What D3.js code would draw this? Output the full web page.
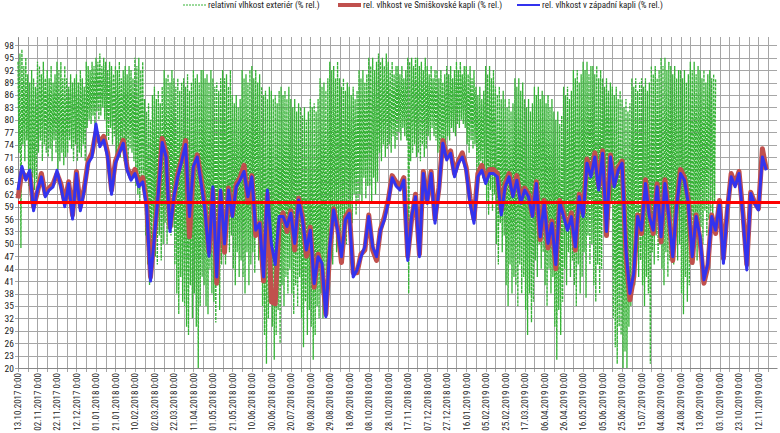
<!DOCTYPE html>
<html>
<head>
<meta charset="utf-8">
<script src="https://cdn.jsdelivr.net/npm/d3@7"></script>
<style>
  body { margin: 0; background: #fff; }
  text { font-family: "Liberation Sans Narrow", "Roboto Condensed", "Liberation Sans", Arial, sans-serif; fill: #222; }
</style>
</head>
<body>
<div id="chart"></div>
<script>
// first day of all series, step of the chapel series (days)
var startDate = '2017-10-13';
var chapelStep = 4;

// relativní vlhkost exteriér - one value a day, daily max / min alternating
var exterior = [
    94,72,96,49,97,74,93,70,95,75, 91,64,89,60,92,66,90,63,88,65,
    94,72,93,75,91,70,94,74,90,72, 92,71,90,73,93,70,89,75,91,72,
    94,68,92,70,94,72,90,69,93,71, 90,72,88,75,91,73,89,70,90,74,
    91,70,89,72,92,71,90,74,88,70, 94,78,93,80,92,79,94,81,93,78,
    95,82,94,80,96,81,93,83,95,80, 94,76,92,75,94,78,93,74,91,76,
    93,70,92,72,94,71,90,73,92,70, 93,71,91,70,93,73,92,72,90,70,
    95,64,93,62,95,60,92,65,94,63, 85,52,82,45,84,40,80,48,86,50,
    88,47,85,45,87,52,84,46,88,50, 92,55,90,50,91,58,89,52,92,54,
    90,45,88,38,90,33,87,42,89,36, 90,35,88,30,91,28,87,40,89,32,
    92,38,90,30,91,20,89,35,92,42, 92,40,90,35,91,33,89,44,92,38,
    90,36,88,31,89,40,87,34,90,45, 92,50,90,45,91,55,88,48,92,52,
    86,44,84,40,86,48,83,42,85,46, 92,42,90,38,91,48,89,40,92,45,
    93,48,90,43,92,52,89,46,91,50, 88,35,86,28,87,21,85,32,88,38,
    87,30,85,22,86,28,84,34,87,26, 88,40,86,35,87,42,85,38,88,44,
    85,38,83,33,85,40,82,35,84,42, 83,32,81,25,83,36,80,28,82,34,
    85,30,83,22,84,28,82,35,85,32, 90,38,88,32,89,42,87,36,90,40,
    94,50,92,45,93,55,90,48,94,52, 90,52,88,48,90,56,87,50,89,55,
    88,58,86,55,88,62,85,57,87,60, 92,62,90,60,92,66,89,61,91,64,
    95,64,93,60,95,66,92,62,94,65, 96,72,94,70,95,74,93,71,96,73,
    94,74,92,72,94,76,91,73,93,75, 93,77,91,75,93,78,90,76,92,75,
    95,38,94,70,95,72,93,74,95,71, 95,72,93,70,94,74,92,71,95,73,
    93,76,91,75,93,78,90,76,92,75, 92,72,90,70,92,74,89,71,91,73,
    93,76,91,75,93,78,90,77,92,76, 94,79,92,78,94,80,91,79,93,78,
    93,74,91,72,93,75,90,73,92,74, 88,67,86,65,88,70,85,66,87,68,
    93,60,91,57,93,63,90,58,92,62, 88,50,86,45,88,55,85,48,87,52,
    85,40,83,35,85,45,82,38,84,42, 90,40,88,35,90,45,87,38,89,42,
    85,34,83,28,85,38,82,31,84,36, 88,46,86,42,88,50,85,44,87,48,
    86,40,84,35,86,44,83,38,85,42, 82,30,80,22,82,34,79,28,81,36,
    88,44,86,40,88,48,85,42,87,46, 92,40,90,35,92,45,89,38,91,42,
    94,48,92,37,94,52,91,45,93,50, 93,40,91,36,93,45,90,38,92,44,
    90,58,88,55,90,62,87,56,89,60, 88,32,86,25,88,21,85,30,87,28,
    85,20,83,24,85,20,82,30,84,35, 90,44,88,40,90,48,87,42,89,46,
    90,40,88,35,90,42,87,38,89,21, 93,48,91,45,93,52,90,46,92,50,
    95,44,93,40,95,48,92,42,94,46, 93,48,91,45,93,52,90,46,92,50,
    92,38,90,33,92,42,89,36,91,40, 94,48,92,45,94,52,91,46,93,50,
    92,54,90,50,92,58,89,52,91,56, 92,58,90,55,91,60,90
];

// rel. vlhkost ve Smiškovské kapli
var smiskovska = [
    61, 67.5, 66, 67, 59, 62.5, 67, 62, 63.5, 64.5,
    67, 64.5, 60, 65, 57, 67.5, 59, 63.5, 70, 72,
    77, 74.5, 76, 72, 63, 70, 72.5, 75, 68.5, 66,
    68, 64.5, 66, 60, 42, 52, 62, 75.5, 72, 54,
    61, 67, 70.5, 75, 51.7, 68, 71.5, 65.5, 59, 48,
    63, 40.5, 62.5, 48, 63.5, 57, 64.5, 66, 69, 60,
    66.5, 52, 55, 41, 62, 36, 35.5, 55, 57.5, 53,
    58, 48.5, 61, 56.5, 47, 54, 39.5, 47.5, 44, 33,
    48, 58.5, 54, 45.5, 56.5, 58, 43, 43, 47.5, 48.5,
    57, 48.5, 46, 53.5, 56.5, 60.5, 66.5, 65, 64, 66,
    47, 56, 62, 47.5, 67.5, 60.5, 67.5, 56, 63.5, 75,
    71, 72.5, 67, 70, 72, 68.5, 61, 56, 67, 69,
    65.5, 68, 68, 67, 58, 64.5, 67, 62, 66.5, 60.5,
    63.5, 62, 57, 65, 51, 60.5, 49, 55.5, 44, 60.5,
    57.5, 54, 57.5, 48.5, 62, 57.5, 70.5, 67, 72, 64,
    72.5, 52, 71.5, 64.5, 68.5, 70, 47.5, 36.5, 42, 57,
    52.5, 65.5, 57.5, 52.5, 64.5, 50.5, 65.5, 57, 46, 59.5,
    68, 66, 60.5, 45.5, 57, 51, 40.5, 44.5, 57, 52.5,
    60.5, 46.5, 58, 67, 64.5, 67.5, 57.5, 45, 62.5, 60,
    58.5, 73, 68
];

// rel. vlhkost v západní kapli
var zapadni = [
    63, 68.7, 65.4, 67.8, 58, 63, 66.2, 61.4, 63, 63.8,
    67.8, 63.8, 59, 64.6, 56, 67, 58, 63, 69.5, 71,
    79, 73.5, 75.1, 71, 62, 69.5, 71.9, 74.3, 67.8, 65.4,
    67, 63.8, 65, 59, 41, 51.7, 62.2, 74.5, 71, 53,
    61.4, 66.2, 70, 74, 56.6, 68.7, 71, 64.6, 58, 47,
    63.8, 42, 63, 50, 63, 56.6, 63.8, 65.4, 67.5, 61.4,
    66.2, 53.3, 54.9, 42, 63, 50, 45, 56.6, 56.6, 54.2,
    57.4, 50.1, 60.6, 55.8, 48.5, 53.3, 40.4, 46.9, 45.3, 32.4,
    49.3, 58.2, 53.3, 46.9, 55.8, 57.4, 42, 43.7, 46.9, 49.3,
    56.6, 49.3, 46.9, 53.3, 55.8, 60, 66, 64, 63, 65.4,
    46, 56.6, 61.4, 46.9, 67, 59.8, 67, 55, 63, 74.3,
    70.3, 71.9, 66.2, 69.5, 71, 67.8, 59.8, 55, 66.2, 67.8,
    64.6, 67, 67, 66.2, 57, 63.8, 66.2, 61.4, 65.4, 59.8,
    63, 61.4, 56.6, 64.6, 51.7, 59.8, 50.1, 55, 45, 60,
    56.6, 53.3, 56.6, 49.3, 61.4, 56.6, 69.5, 66.2, 71, 63,
    71.9, 53, 71, 63.8, 67.8, 69.5, 48.5, 38, 42.9, 56.6,
    53.3, 64.6, 56.6, 53.3, 63.8, 51.7, 64.6, 56.6, 46.9, 59,
    67, 65.4, 59.8, 46.9, 56.6, 51.7, 41.3, 45.3, 56.6, 53.3,
    59.8, 45.3, 58.2, 66.2, 63.8, 67, 56.6, 43.7, 62.2, 59.8,
    58.2, 71, 67.8
];

var yTicks = [20, 23, 26, 29, 32, 35, 38, 41, 44, 47, 50, 53, 56, 59, 62, 65, 68, 71, 74, 77, 80, 83, 86, 89, 92, 95, 98];
var limitValue = 60;

var legendLabels = [
    'relativní vlhkost exteriér (% rel.)',
    'rel. vlhkost ve Smiškovské kapli (% rel.)',
    'rel. vlhkost v západní kapli (% rel.)'
];

var svgWidth = 780;
var svgHeight = 433;
var margin = { top: 37, right: 3, bottom: 65, left: 18 };
var width = svgWidth - margin.left - margin.right;
var height = svgHeight - margin.top - margin.bottom;

var svg = d3.select('#chart')
    .append('svg')
    .attr('width', svgWidth)
    .attr('height', svgHeight);

var chartGroup = svg.append('g')
    .attr('transform', `translate(${margin.left}, ${margin.top})`);

var t0 = new Date(startDate + 'T00:00:00Z');
var xScale = d3.scaleUtc()
    .domain([t0, d3.utcDay.offset(t0, 779)])
    .range([0, width]);

var yScale = d3.scaleLinear()
    .domain([20, 100])
    .range([height, 0]);

// grid
var gridDays = d3.range(0, 780, 10).map(d => d3.utcDay.offset(t0, d));
chartGroup.selectAll('line.vgrid')
    .data(gridDays)
    .enter()
    .append('line')
    .attr('class', 'vgrid')
    .attr('x1', d => Math.round(xScale(d)) + 0.5)
    .attr('x2', d => Math.round(xScale(d)) + 0.5)
    .attr('y1', 0)
    .attr('y2', height + 4)
    .attr('stroke', '#a6a6a6')
    .attr('stroke-width', 1);

chartGroup.selectAll('line.hgrid')
    .data(yTicks)
    .enter()
    .append('line')
    .attr('class', 'hgrid')
    .attr('x1', -3)
    .attr('x2', width)
    .attr('y1', d => Math.round(yScale(d)) + 0.5)
    .attr('y2', d => Math.round(yScale(d)) + 0.5)
    .attr('stroke', '#a6a6a6')
    .attr('stroke-width', 1);

// axes
var leftAxis = d3.axisLeft(yScale)
    .tickValues(yTicks)
    .tickSize(0)
    .tickPadding(4);

chartGroup.append('g')
    .call(leftAxis)
    .call(g => g.select('.domain').attr('stroke', '#888'))
    .selectAll('text')
    .style('font-size', '9.5px')
    .attr('fill', '#222');

var labelDays = d3.range(0, 780, 20).map(d => d3.utcDay.offset(t0, d));
var bottomAxis = d3.axisBottom(xScale)
    .tickValues(labelDays)
    .tickSize(0)
    .tickFormat(d3.utcFormat('%d.%m.%Y 0:00'));

chartGroup.append('g')
    .attr('transform', `translate(0, ${height})`)
    .call(bottomAxis)
    .call(g => g.select('.domain').attr('stroke', '#888'))
    .selectAll('text')
    .style('font-size', '9px')
    .attr('fill', '#222')
    .attr('text-anchor', 'end')
    .attr('transform', 'rotate(-90)')
    .attr('x', -5)
    .attr('y', 0)
    .attr('dy', '0.32em');

// series
var exteriorLine = d3.line()
    .x((d, i) => xScale(d3.utcDay.offset(t0, i)))
    .y(d => yScale(d));

var chapelLine = d3.line()
    .x((d, i) => xScale(d3.utcDay.offset(t0, i * chapelStep)))
    .y(d => yScale(d));

chartGroup.append('path')
    .datum(exterior)
    .attr('d', exteriorLine)
    .attr('fill', 'none')
    .attr('stroke', '#36b336')
    .attr('stroke-width', 1.3)
    .attr('stroke-dasharray', '3,1');

chartGroup.append('path')
    .datum(smiskovska)
    .attr('d', chapelLine)
    .attr('fill', 'none')
    .attr('stroke', '#c0504d')
    .attr('stroke-width', 5)
    .attr('stroke-linejoin', 'round');

chartGroup.append('path')
    .datum(zapadni)
    .attr('d', chapelLine)
    .attr('fill', 'none')
    .attr('stroke', '#3333ee')
    .attr('stroke-width', 3)
    .attr('stroke-linejoin', 'round');

// 60 % limit
chartGroup.append('line')
    .attr('x1', 0)
    .attr('x2', width + margin.right)
    .attr('y1', yScale(limitValue))
    .attr('y2', yScale(limitValue))
    .attr('stroke', '#ff0000')
    .attr('stroke-width', 3);

// legend
var legendItems = [
    { x: 183, color: '#36b336', w: 1, dash: '2,1', label: legendLabels[0] },
    { x: 338, color: '#c0504d', w: 4, dash: null, label: legendLabels[1] },
    { x: 517, color: '#3333ee', w: 2, dash: null, label: legendLabels[2] }
];

var legend = svg.selectAll('g.legend')
    .data(legendItems)
    .enter()
    .append('g')
    .attr('class', 'legend')
    .attr('transform', d => `translate(${d.x}, 5)`);

legend.append('line')
    .attr('x1', 0)
    .attr('x2', 23)
    .attr('stroke', d => d.color)
    .attr('stroke-width', d => d.w)
    .attr('stroke-dasharray', d => d.dash);

legend.append('text')
    .attr('x', 25)
    .attr('dy', '0.32em')
    .style('font-size', '9px')
    .text(d => d.label);
</script>
</body>
</html>
